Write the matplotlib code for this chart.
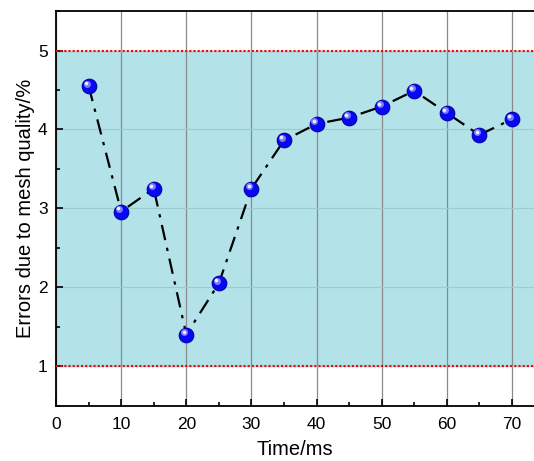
import matplotlib.pyplot as plt
import matplotlib.transforms as mtransforms
from matplotlib.ticker import MultipleLocator

plt.rcParams['font.family'] = ['Liberation Sans', 'DejaVu Sans']

# data
time_ms = [5, 10, 15, 20, 25, 30, 35, 40, 45, 50, 55, 60, 65, 70]
errors = [4.55, 2.96, 3.25, 1.40, 2.05, 3.25, 3.86, 4.07, 4.15, 4.29, 4.49, 4.21, 3.93, 4.13]
band_low = 1
band_high = 5

fig = plt.figure(figsize=(5.34, 4.61), dpi=100)
ax = fig.add_axes([0.105, 0.12, 0.895, 0.856])

ax.set_xlim(0, 73.4)
ax.set_ylim(0.5, 5.5)

# shaded band between the limits
ax.axhspan(band_low, band_high, color='#b3e3e8', zorder=0)
ax.axhline(band_low, color='red', linestyle=(0, (1, 1)), linewidth=1.5, zorder=3)
ax.axhline(band_high, color='red', linestyle=(0, (1, 1)), linewidth=1.5, zorder=3)

ax.xaxis.set_major_locator(MultipleLocator(10))
ax.xaxis.set_minor_locator(MultipleLocator(5))
ax.yaxis.set_major_locator(MultipleLocator(1))
ax.yaxis.set_minor_locator(MultipleLocator(0.5))
ax.set_yticks([1, 2, 3, 4, 5])

ax.grid(axis='x', color='#8a8a8a', linewidth=0.9, zorder=1)
ax.grid(axis='y', color='#9ccbd0', linewidth=0.9, zorder=1)
ax.set_axisbelow(True)

ax.plot(time_ms, errors, color='black', linestyle=(0, (7, 3.5, 1.5, 3.5)), linewidth=1.6, zorder=4)
ax.plot(time_ms, errors, linestyle='none', marker='o', markersize=10.5,
        markerfacecolor='#0808f4', markeredgecolor='#0000a8', markeredgewidth=0.8, zorder=5)
# small highlight on each ball
glow = mtransforms.offset_copy(ax.transData, fig=fig, x=-1.5, y=1.8, units='points')
ax.plot(time_ms, errors, linestyle='none', marker='o', markersize=5,
        markerfacecolor='#7a7aff', markeredgecolor='none', transform=glow, zorder=6)
shine = mtransforms.offset_copy(ax.transData, fig=fig, x=-2, y=2.2, units='points')
ax.plot(time_ms, errors, linestyle='none', marker='o', markersize=2.6,
        markerfacecolor='#eeeeff', markeredgecolor='none', transform=shine, zorder=7)

ax.tick_params(which='both', direction='in', labelsize=12.5, width=1.2)
ax.tick_params(which='major', length=5)
ax.tick_params(which='minor', length=3)
ax.tick_params(axis='x', pad=8)
ax.tick_params(axis='y', pad=6)

for side in ['left', 'bottom', 'top']:
    ax.spines[side].set_linewidth(1.3)
ax.spines['right'].set_visible(False)

ax.set_xlabel('Time/ms', fontsize=14.5, labelpad=6)
ax.set_ylabel('Errors due to mesh quality/%', fontsize=14.5, labelpad=2)

fig.savefig('out.png', dpi=100)
